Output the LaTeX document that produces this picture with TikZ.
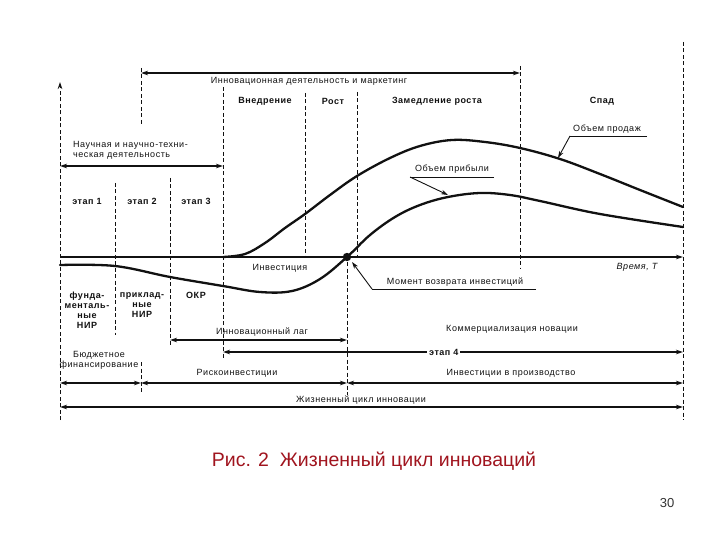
\documentclass[tikz,border=0pt]{standalone}
\usepackage{fontspec}
\setmainfont{Liberation Sans}
\newfontfamily\scanfont{Liberation Sans}[LetterSpace=6]
\usetikzlibrary{arrows.meta,positioning,calc}
\definecolor{ink}{HTML}{111111}
\definecolor{capred}{HTML}{A0141E}
\definecolor{pagegray}{HTML}{333333}
\tikzset{
  tip/.tip={Stealth[length=7pt,width=4.5pt]},
  guide/.style={ink, line width=0.8pt, dash pattern=on 4pt off 2.5pt},
  span/.style={ink, line width=1.1pt, tip-tip},
  curve/.style={ink, line width=2.3pt, line cap=round},
  lbl/.style={font=\scanfont\fontsize{9}{10}\selectfont, inner sep=1pt, text=ink},
  blbl/.style={font=\scanfont\bfseries\fontsize{9}{10}\selectfont, inner sep=1pt, text=ink},
}

\begin{document}
\begin{tikzpicture}[x=1pt,y=-1pt]
  \useasboundingbox (0,0) rectangle (720,540);
  % Guide lines
  \coordinate (vA0) at (60,420);  \coordinate (vA1) at (60,82);
  \coordinate (vB0) at (683,42);  \coordinate (vB1) at (683,420);
  \coordinate (vC0) at (141,68);  \coordinate (vC1) at (141,125);
  \coordinate (vD0) at (141,362); \coordinate (vD1) at (141,392);
  \coordinate (vE0) at (115,183); \coordinate (vE1) at (115,335);
  \coordinate (vF0) at (170,178); \coordinate (vF1) at (170,346);
  \coordinate (vG0) at (223,87);  \coordinate (vG1) at (223,358);
  \coordinate (vH0) at (305,93);  \coordinate (vH1) at (305,257);
  \coordinate (vI0) at (357,92);  \coordinate (vI1) at (357,257);
  \coordinate (vJ0) at (520,66);  \coordinate (vJ1) at (520,268);
  \coordinate (vK0) at (347,262); \coordinate (vK1) at (347,395);
  \draw[guide, -tip] (vA0) -- (vA1);
  \foreach \g in {B,C,D,E,F,G,H,I,J,K}
    \draw[guide] (v\g0) -- (v\g1);

  % Time axis
  \coordinate (t0) at (60,257);
  \coordinate (t1) at (683,257);
  \draw[ink, line width=1.8pt, -tip] (t0) -- (t1);
  \node[lbl, font=\scanfont\itshape\fontsize{9}{10}\selectfont] (time) at (637,267) {Время, Т};

  % Curves
  \draw[curve] plot[smooth, tension=0.6] coordinates {(223,257) (245,254) (265,243) (285,228) (305,214) (330,195) (357,176) (390,158) (420,146) (452,140) (485,142) (520,148) (560,159) (600,174) (640,190) (683,207)};
  \draw[curve] plot[smooth, tension=0.6] coordinates {(60,265) (115,266) (170,277) (223,286) (260,292) (292,291) (320,279) (347,257) (370,235) (395,217) (420,205) (448,197) (480,193) (510,195) (540,201) (600,214) (683,227)};
  \fill[ink] (347,257) circle (4.2);
  \coordinate (payback) at (347,257);

  % Top spans
  \coordinate (inL) at (141,73);  \coordinate (inR) at (520,73);
  \draw[span] (inL) -- (inR);
  \node[lbl] (innov) at (309,81) {Инновационная деятельность и маркетинг};
  \coordinate (scL) at (60,166);  \coordinate (scR) at (223,166);
  \draw[span] (scL) -- (scR);
  \node[lbl, align=left, anchor=west] (science) at (72,150) {Научная и научно-техни-\\ческая деятельность};

  % Phases
  \node[blbl] (intro) at (265,101) {Внедрение};
  \node[blbl] (growth) at (333,101) {Рост};
  \node[blbl] (slow) at (437,101) {Замедление роста};
  \node[blbl] (decline) at (602,101) {Спад};
  \node[blbl] (st1) at (87,201) {этап 1};
  \node[blbl] (st2) at (142,201) {этап 2};
  \node[blbl] (st3) at (196,201) {этап 3};

  % Curve labels
  \node[lbl] (sales) at (607,129) {Объем продаж};
  \coordinate (salesU0) at (570,136); \coordinate (salesU1) at (647,136);
  \coordinate (salesTip) at (558,158);
  \draw[ink, line width=0.9pt] (salesU1) -- (salesU0);
  \draw[ink, line width=0.9pt, -tip] (salesU0) -- (salesTip);
  \node[lbl] (profit) at (452,169) {Объем прибыли};
  \coordinate (profU0) at (410,177); \coordinate (profU1) at (494,177);
  \coordinate (profTip) at (448,195);
  \draw[ink, line width=0.9pt] (profU1) -- (profU0);
  \draw[ink, line width=0.9pt, -tip] (profU0) -- (profTip);
  \node[lbl] (invest) at (280,268) {Инвестиция};
  \node[lbl] (moment) at (455,282) {Момент возврата инвестиций};
  \coordinate (momU0) at (372,289); \coordinate (momU1) at (536,289);
  \coordinate (momTip) at (352,262);
  \draw[ink, line width=0.9pt] (momU1) -- (momU0);
  \draw[ink, line width=0.9pt, -tip] (momU0) -- (momTip);

  % Research kinds
  \node[blbl, align=center, anchor=north] (fund) at (87,291) {фунда-\\менталь-\\ные\\НИР};
  \node[blbl, align=center, anchor=north] (appl) at (142,291) {приклад-\\ные\\НИР};
  \node[blbl, anchor=north] (okr) at (196,291) {ОКР};

  % Bottom spans
  \coordinate (lagL) at (170,340); \coordinate (lagR) at (347,340);
  \draw[span] (lagL) -- (lagR);
  \node[lbl] (lag) at (262,332) {Инновационный лаг};
  \node[lbl] (comm) at (512,329) {Коммерциализация новации};
  \coordinate (s4L) at (223,352); \coordinate (s4R) at (683,352);
  \draw[span] (s4L) -- node[blbl, fill=white, inner sep=2pt, pos=0.48] (st4) {этап 4} (s4R);
  \node[lbl, align=center] (budget) at (99,360) {Бюджетное\\финансирование};
  \coordinate (bL) at (60,383);   \coordinate (bR) at (141,383);
  \coordinate (rR) at (347,383);  \coordinate (pR) at (683,383);
  \draw[span] (bL) -- (bR);
  \draw[span] (bR) -- (rR);
  \draw[span] (rR) -- (pR);
  \node[lbl] (risk) at (237,373) {Рискоинвестиции};
  \node[lbl] (prod) at (511,373) {Инвестиции в производство};
  \coordinate (lcL) at (60,407);  \coordinate (lcR) at (683,407);
  \draw[span] (lcL) -- (lcR);
  \node[lbl] (life) at (361,400) {Жизненный цикл инновации};

  % Caption
  \node[font=\fontsize{19.5}{22}\selectfont, text=capred] (caption) at (374,461) {Рис. 2\ \ Жизненный цикл инноваций};
  \node[font=\fontsize{13}{15}\selectfont, text=pagegray] (page) at (667,503) {30};
\end{tikzpicture}
\end{document}
